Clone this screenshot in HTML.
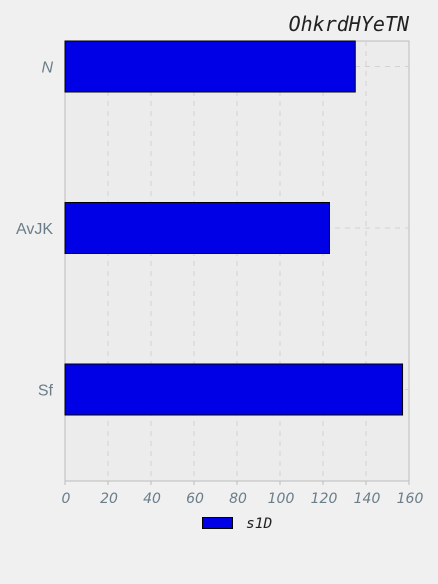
<!DOCTYPE html>
<html><head><meta charset="utf-8"><style>
html,body{margin:0;padding:0;background:#f0f0f0;width:438px;height:584px;overflow:hidden}
svg{display:block}
</style></head><body>
<svg id="chart" width="438" height="584" xmlns="http://www.w3.org/2000/svg">
<text x="409" y="31" text-anchor="end" font-family="DejaVu Sans Mono, monospace" font-style="italic" font-size="20" fill="#222">OhkrdHYeTN</text>
<rect x="65" y="41" width="344" height="440" fill="#ececec" stroke="#bdbdbd" stroke-width="1"/>
<g id="grid"></g><g id="bars"></g><g id="xticks"></g><g id="ylabels"></g>
<g>
<rect x="202.5" y="517.5" width="30" height="11" fill="#0000e6" stroke="#000" stroke-width="1"/>
<text x="246" y="528" font-family="DejaVu Sans Mono, monospace" font-style="italic" font-size="14.5" fill="#222">s1D</text>
</g>
</svg>
<script>
const categories = ["N", "AvJK", "Sf"];
const values = [135, 123, 157];
const xTicks = [0, 20, 40, 60, 80, 100, 120, 140, 160];
const NS = "http://www.w3.org/2000/svg";
const X0 = 65, X1 = 409, XMAX = 160;
const x = v => X0 + v / XMAX * (X1 - X0);
const yc = i => 66.5 + i * 161.5;
const BH = 51;
function mk(tag, attrs, parent) { const e = document.createElementNS(NS, tag); for (const k in attrs) e.setAttribute(k, attrs[k]); parent.appendChild(e); return e; }
const grid = document.getElementById("grid"), bars = document.getElementById("bars"), xt = document.getElementById("xticks"), yl = document.getElementById("ylabels");
xTicks.forEach(t => {
  if (t > 0 && t < XMAX) {
    const l = mk("line", {x1: x(t), x2: x(t), y1: 41, y2: 481, stroke: "#d2d2d2", "stroke-dasharray": "5,5"}, grid);
    
    
  }
  const tk = mk("line", {x1: x(t), x2: x(t), y1: 481, y2: 485, stroke: "#bdbdbd"}, xt);
  
  
  const tx = mk("text", {x: x(t) + 1, y: 503, "text-anchor": "middle", "font-family": "DejaVu Sans, sans-serif", "font-style": "italic", "font-size": "14", fill: "#6a7d88"}, xt);
  tx.textContent = t;
  
  
});
categories.forEach((c, i) => {
  const g = mk("line", {x1: X0, x2: X1, y1: yc(i), y2: yc(i), stroke: "#d2d2d2", "stroke-dasharray": "5,5"}, grid);
  
  
  const r = mk("rect", {x: X0, y: yc(i) - BH / 2, width: x(values[i]) - X0, height: BH, fill: "#0000e6", stroke: "#000", "stroke-width": "1"}, bars);
  
  
  const t = mk("text", {x: 53, y: yc(i) + 6, "text-anchor": "end", "font-family": "Liberation Sans, sans-serif", "font-size": "16", fill: "#6a7d88"}, yl);
  if (i === 0) t.setAttribute("font-style", "italic");
  t.textContent = c;
  
  
});
</script>
</body></html>
